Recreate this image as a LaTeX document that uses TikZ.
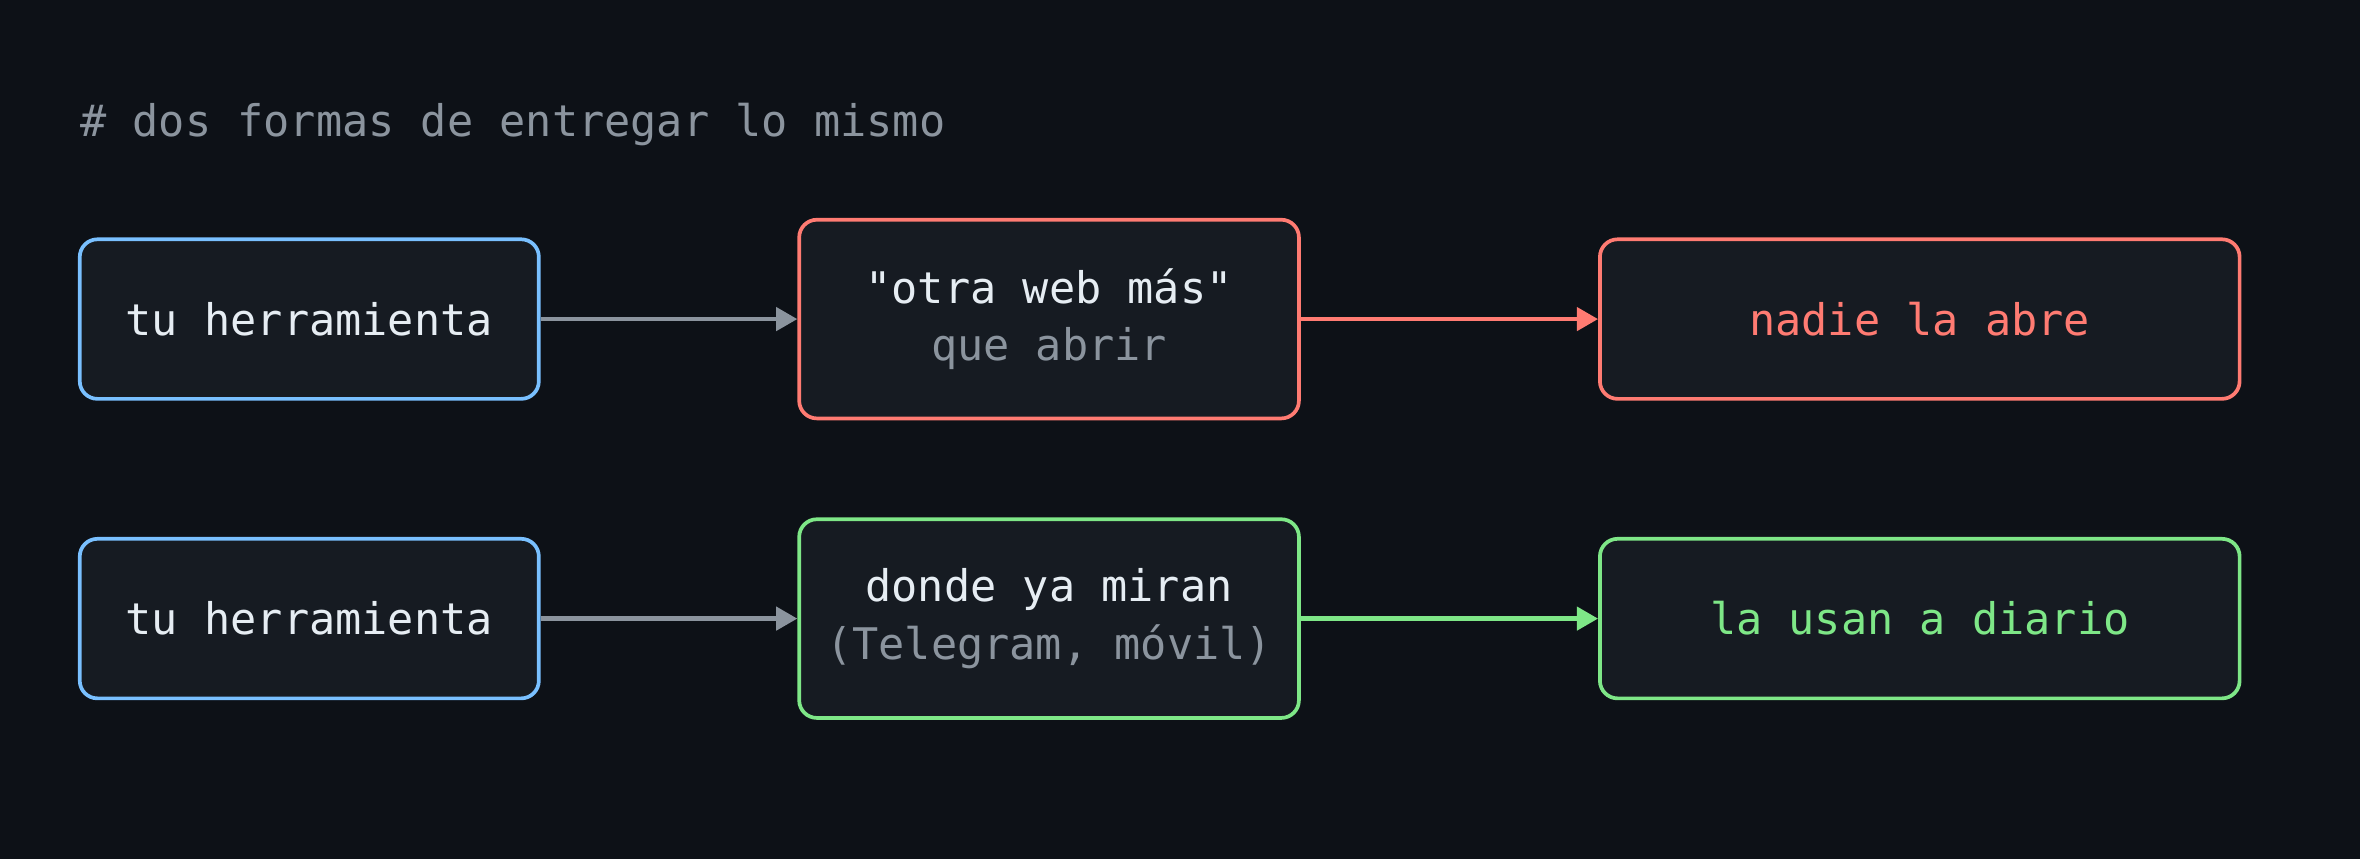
\documentclass[tikz,border=0pt]{standalone}
\usepackage{fontspec}
\setmonofont{DejaVu Sans Mono}
\usetikzlibrary{positioning, arrows.meta}
\definecolor{bgc}{HTML}{0D1117}
\definecolor{boxc}{HTML}{161B22}
\definecolor{blu}{HTML}{79C0FF}
\definecolor{redc}{HTML}{FF7B72}
\definecolor{grn}{HTML}{7EE787}
\definecolor{gry}{HTML}{8B949E}
\definecolor{txt}{HTML}{E6EDF3}
\begin{document}
\begin{tikzpicture}[x=0.03cm, y=-0.03cm,
    box/.style={rectangle, draw, line width=2.1pt, fill=boxc, rounded corners=10pt,
                minimum height=3.18cm, align=center, text=txt,
                font=\ttfamily\fontsize{24.7}{32.4}\selectfont},
    src/.style={box, draw=blu, minimum width=9.15cm},
    mid/.style={box, minimum width=9.96cm, minimum height=3.96cm},
    dst/.style={box, minimum width=12.75cm},
    arrow/.style={-{Triangle[length=12pt, width=13pt]}, line width=2.6pt}
]
    \fill[bgc] (0,0) rectangle (1568,571);
    \useasboundingbox (0,0) rectangle (1568,571);

    % heading
    \node[anchor=west, inner sep=0pt, text=gry, font=\ttfamily\fontsize{24.7}{30}\selectfont]
        (title) at (53,83) {\# dos formas de entregar lo mismo};

    % === Row 1 ===
    \node[src] (tool1) at (205.5,212) {tu herramienta};
    \node[mid, draw=redc] (web) at (697,212) {"otra web más"\\\textcolor{gry}{que abrir}};
    \node[dst, draw=redc, text=redc] (nobody) at (1275.5,212) {nadie la abre};
    \draw[arrow, gry] (tool1) -- (web);
    \draw[arrow, redc] (web) -- (nobody);

    % === Row 2 ===
    \node[src] (tool2) at (205.5,411) {tu herramienta};
    \node[mid, draw=grn] (where) at (697,411) {donde ya miran\\\textcolor{gry}{(Telegram, móvil)}};
    \node[dst, draw=grn, text=grn] (daily) at (1275.5,411) {la usan a diario};
    \draw[arrow, gry] (tool2) -- (where);
    \draw[arrow, grn] (where) -- (daily);

\end{tikzpicture}
\end{document}
